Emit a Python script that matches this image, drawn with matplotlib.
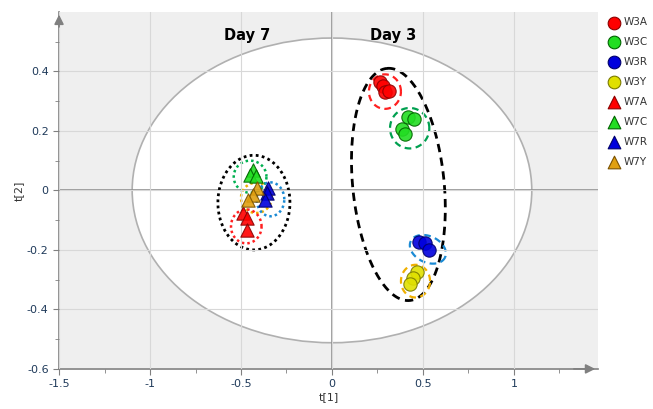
import numpy as np
import matplotlib
matplotlib.use("Agg")
import matplotlib.pyplot as plt
from matplotlib.patches import Ellipse

# ---- data ----
groups = ["W3A", "W3C", "W3R", "W3Y", "W7A", "W7C", "W7R", "W7Y"]
w3a_x = [0.264, 0.28, 0.291, 0.313]
w3a_y = [0.363, 0.35, 0.332, 0.335]
w3c_x = [0.42, 0.448, 0.383, 0.401]
w3c_y = [0.246, 0.241, 0.207, 0.19]
w3r_x = [0.48, 0.511, 0.535]
w3r_y = [-0.172, -0.177, -0.20]
w3y_x = [0.465, 0.447, 0.429]
w3y_y = [-0.274, -0.296, -0.316]
w7a_x = [-0.487, -0.469, -0.469]
w7a_y = [-0.076, -0.093, -0.132]
w7c_x = [-0.434, -0.45, -0.42]
w7c_y = [0.068, 0.052, 0.05]
w7r_x = [-0.35, -0.359, -0.368]
w7r_y = [0.009, -0.008, -0.031]
w7y_x = [-0.414, -0.432, -0.46]
w7y_y = [0.009, -0.014, -0.031]

xs = [w3a_x, w3c_x, w3r_x, w3y_x, w7a_x, w7c_x, w7r_x, w7y_x]
ys = [w3a_y, w3c_y, w3r_y, w3y_y, w7a_y, w7c_y, w7r_y, w7y_y]
face = ["#ff0000", "#22dd22", "#0000dd", "#e0e000",
        "#ff0000", "#22dd22", "#0000dd", "#e0a010"]
edge = ["#8b0000", "#006400", "#00006b", "#7a7a00",
        "#8b0000", "#006400", "#00006b", "#7a5200"]
marks = ["o"] * 4 + ["^"] * 4

x_ticks = [-1.5, -1, -0.5, 0, 0.5, 1]
y_ticks = [-0.6, -0.4, -0.2, 0, 0.2, 0.4]

fig = plt.figure(figsize=(6.53, 4.09), dpi=100)
ax = fig.add_axes([0.0904, 0.098, 0.8254, 0.873])
ax.set_facecolor("#efefef")
ax.set_xlim(-1.5, 1.462)
ax.set_ylim(-0.6, 0.6)

# Hotelling ellipse
ax.add_patch(Ellipse((0, 0), 2 * 1.098, 2 * 0.512, facecolor="white",
                     edgecolor="#b0b0b0", lw=1.2, zorder=0.5))

ax.set_xticks(x_ticks)
ax.set_xticklabels(["-1.5", "-1", "-0.5", "0", "0.5", "1"])
ax.set_yticks(y_ticks)
ax.set_yticklabels(["-0.6", "-0.4", "-0.2", "0", "0.2", "0.4"])
ax.set_xticks(np.arange(-1.25, 1.3, 0.5), minor=True)
ax.set_yticks(np.arange(-0.5, 0.6, 0.2), minor=True)
ax.grid(True, which="major", color="#d8d8d8", lw=0.8, zorder=1)
ax.set_axisbelow(False)
ax.tick_params(which="both", direction="out", colors="#808080",
               labelcolor="#1f3a5a", labelsize=8, length=4)
ax.tick_params(which="minor", length=3)
for s in ["top", "right"]:
    ax.spines[s].set_visible(False)
for s in ["left", "bottom"]:
    ax.spines[s].set_color("#808080")
    ax.spines[s].set_linewidth(1.2)

ax.axhline(0, color="#909090", lw=1.2, zorder=1.2)
ax.axvline(0, color="#909090", lw=1.2, zorder=1.2)

# arrows on axes
ax.annotate("", xy=(1.0, 0), xycoords="axes fraction", xytext=(0.95, 0),
            arrowprops=dict(arrowstyle="-|>", color="#808080", lw=1.2,
                            mutation_scale=14), annotation_clip=False)
ax.annotate("", xy=(0, 1.0), xycoords="axes fraction", xytext=(0, 0.95),
            arrowprops=dict(arrowstyle="-|>", color="#808080", lw=1.2,
                            mutation_scale=14), annotation_clip=False)

ax.set_xlabel("t[1]", fontsize=8, color="#333333", labelpad=2)
ax.set_ylabel("t[2]", fontsize=8, color="#333333", labelpad=2)

# group ellipses
def ell(cx, cy, ux, uy, vx, vy, color, ls, lw):
    t = np.linspace(0, 2 * np.pi, 300)
    px = cx + ux * np.cos(t) + vx * np.sin(t)
    py = cy + uy * np.cos(t) + vy * np.sin(t)
    ax.plot(px, py, color=color, ls=ls, lw=lw, zorder=2)

dash = (0, (3, 2))
dot = (0, (1, 1.2))
ell(0.365, 0.020, -0.063, 0.390, 0.25, 0.0158, "black", dash, 2.0)
ell(0.291, 0.332, 0.088, 0.0, 0.0, 0.058, "#ff2020", dash, 1.6)
ell(0.427, 0.209, 0.108, 0.0, 0.0, 0.068, "#00a050", dash, 1.6)
ell(0.527, -0.198, 0.0945, -0.027, -0.03, -0.04, "#1a8ad4", dash, 1.6)
ell(0.459, -0.305, 0.08, 0.0, 0.0, 0.055, "#f0b000", dash, 1.6)

ell(-0.429, -0.041, 0.198, 0.0, 0.0, 0.159, "black", dot, 2.0)
ell(-0.45, 0.046, 0.09, 0.0, 0.0, 0.054, "#00b050", dot, 1.8)
ell(-0.416, -0.025, 0.084, 0.0, 0.0, 0.051, "#f0b000", dot, 1.8)
ell(-0.338, -0.03, 0.076, 0.0, 0.0, 0.057, "#1a8ad4", dot, 1.8)
ell(-0.471, -0.121, 0.084, 0.0, 0.0, 0.057, "#ff2020", dot, 1.8)

handles = []
for g, x, y, fc, ec, m in zip(groups, xs, ys, face, edge, marks):
    h = ax.scatter(x, y, s=92, marker=m, facecolor=fc, edgecolor=ec,
                   linewidth=0.8, alpha=0.9, zorder=3, label=g)
    handles.append(h)

ax.text(-0.467, 0.522, "Day 7", fontsize=10.5, fontweight="bold",
        ha="center", va="center", zorder=4)
ax.text(0.337, 0.522, "Day 3", fontsize=10.5, fontweight="bold",
        ha="center", va="center", zorder=4)

leg = fig.legend(handles=handles, labels=groups, loc="upper left",
                 bbox_to_anchor=(0.924, 0.968), frameon=False, fontsize=7.5,
                 handletextpad=0.25, labelspacing=0.95, borderaxespad=0,
                 handlelength=1.3, scatterpoints=1, markerscale=0.95)
for t in leg.get_texts():
    t.set_color("#333333")
for h in leg.legend_handles:
    h.set_alpha(1)

fig.savefig("out.png", dpi=100)
